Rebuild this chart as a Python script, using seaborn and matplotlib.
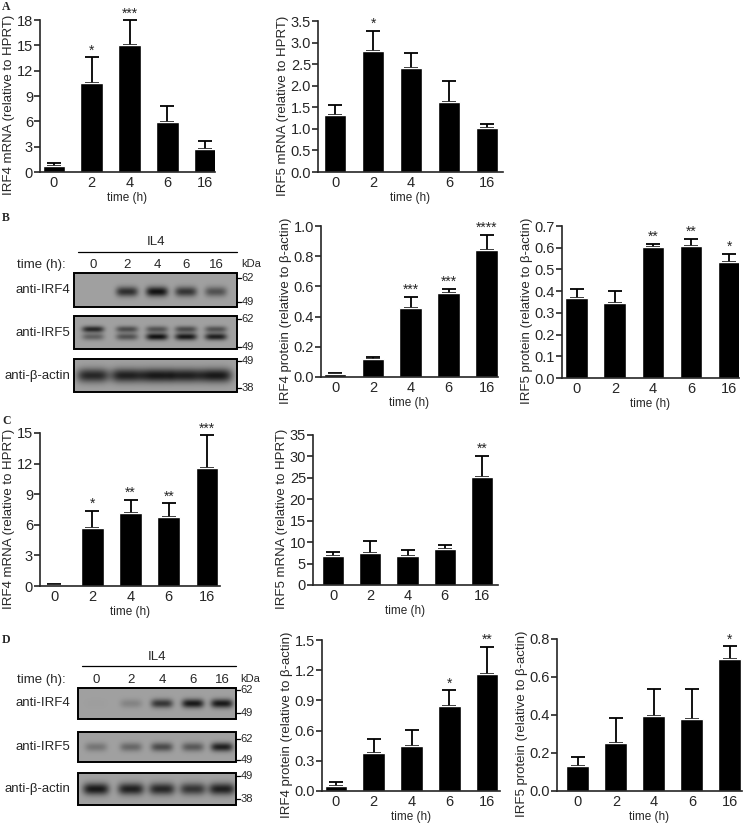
import numpy as np
import pandas as pd
import seaborn as sns
import matplotlib.pyplot as plt
from matplotlib.patches import Rectangle
from matplotlib.ticker import FormatStrFormatter

# time points (h) shared by every panel
times = ['0', '2', '4', '6', '16']

# A: mRNA, first donor set
a_irf4_mrna = [0.67, 10.56, 15.07, 5.9, 2.69]
a_irf4_mrna_err = [0.40, 3.01, 2.89, 1.9, 0.95]
a_irf4_mrna_sig = ['', '*', '***', '', '']
a_irf5_mrna = [1.31, 2.81, 2.42, 1.62, 1.02]
a_irf5_mrna_err = [0.24, 0.46, 0.33, 0.48, 0.10]
a_irf5_mrna_sig = ['', '*', '', '', '']

# B: protein quantification
b_irf4_prot = [0.02, 0.12, 0.46, 0.555, 0.844]
b_irf4_prot_err = [0.006, 0.015, 0.073, 0.03, 0.097]
b_irf4_prot_sig = ['', '', '***', '***', '****']
b_irf5_prot = [0.368, 0.345, 0.603, 0.607, 0.533]
b_irf5_prot_err = [0.041, 0.055, 0.013, 0.035, 0.04]
b_irf5_prot_sig = ['', '', '**', '**', '*']

# C: mRNA, second set
c_irf4_mrna = [0.1, 5.64, 7.12, 6.73, 11.55]
c_irf4_mrna_err = [0.13, 1.74, 1.31, 1.37, 3.22]
c_irf4_mrna_sig = ['', '*', '**', '**', '***']
c_irf5_mrna = [6.7, 7.5, 6.8, 8.3, 25.2]
c_irf5_mrna_err = [0.9, 2.7, 1.4, 1.0, 5.0]
c_irf5_mrna_sig = ['', '', '', '', '**']

# D: protein quantification, second set
d_irf4_prot = [0.053, 0.376, 0.448, 0.84, 1.164]
d_irf4_prot_err = [0.033, 0.144, 0.162, 0.16, 0.266]
d_irf4_prot_sig = ['', '', '', '*', '**']
d_irf5_prot = [0.13, 0.253, 0.397, 0.378, 0.693]
d_irf5_prot_err = [0.05, 0.132, 0.139, 0.157, 0.068]
d_irf5_prot_sig = ['', '', '', '', '*']

# western blot band darkness per lane (0 = none, 1 = black)
b_blot_irf4 = [0.0, 0.8, 1.0, 0.75, 0.55]
b_blot_irf5_upper = [0.85, 0.6, 0.55, 0.6, 0.55]
b_blot_irf5_lower = [0.45, 0.55, 1.0, 0.95, 0.9]
b_blot_actin = [0.85, 0.9, 0.95, 0.9, 0.95]
d_blot_irf4 = [0.02, 0.2, 0.75, 0.95, 0.95]
d_blot_irf5 = [0.3, 0.4, 0.6, 0.5, 0.9]
d_blot_actin = [0.95, 0.9, 0.85, 0.75, 0.9]

#
#
#
W, H = 745, 823
sns.set_style('ticks')
plt.rcParams['font.family'] = ['Liberation Sans', 'DejaVu Sans']
plt.rcParams['axes.linewidth'] = 1.2

fig = plt.figure(figsize=(W / 100, H / 100), dpi=100)

ov = fig.add_axes([0, 0, 1, 1])
ov.set_xlim(0, W)
ov.set_ylim(H, 0)
ov.axis('off')
ov.set_autoscale_on(False)


def bar_panel(box, pad, values, errors, sig, yticks, fmt, ylabel):
    l, r, t, b = box
    ax = fig.add_axes([l / W, 1 - b / H, (r - l) / W, (b - t) / H])
    df = pd.DataFrame({'time': times, 'value': values})
    sns.barplot(data=df, x='time', y='value', order=times, color='black',
                saturation=1, width=0.6, errorbar=None, ax=ax, zorder=2)
    ax.errorbar(np.arange(len(times)), values,
                yerr=[np.zeros(len(values)), errors], fmt='none',
                ecolor='black', elinewidth=1.3, capsize=5, capthick=1.3,
                zorder=1, clip_on=False)
    for i, (v, e, s) in enumerate(zip(values, errors, sig)):
        if s:
            ax.text(i, v + e, s, ha='center', va='bottom', fontsize=10,
                    clip_on=False)
    ax.set_xlim(-pad[0], len(times) - 1 + pad[1])
    ax.set_ylim(0, yticks[-1])
    ax.set_yticks(yticks)
    ax.yaxis.set_major_formatter(FormatStrFormatter(fmt))
    ax.tick_params(axis='y', length=4, width=1.2, labelsize=10.5, pad=1)
    ax.tick_params(axis='x', length=0, labelsize=10.5, pad=3)
    ax.set_xlabel('time (h)', fontsize=8.5, labelpad=1)
    ax.set_ylabel(ylabel, fontsize=9.5, labelpad=1)
    # the reference labels sit a little below the axis centre
    ax.yaxis.label.set_y(0.5 - 9 / (b - t))
    sns.despine(ax=ax)
    return ax


bar_panel((40, 215, 20, 172), (0.37, 0.26), a_irf4_mrna, a_irf4_mrna_err,
          a_irf4_mrna_sig, [0, 3, 6, 9, 12, 15, 18], '%d',
          'IRF4 mRNA (relative to HPRT)')
bar_panel((318, 503, 21, 172), (0.45, 0.42), a_irf5_mrna, a_irf5_mrna_err,
          a_irf5_mrna_sig, [0, 0.5, 1.0, 1.5, 2.0, 2.5, 3.0, 3.5], '%.1f',
          'IRF5 mRNA (relative to HPRT)')
bar_panel((321, 498, 226, 377), (0.37, 0.3), b_irf4_prot, b_irf4_prot_err,
          b_irf4_prot_sig, [0, 0.2, 0.4, 0.6, 0.8, 1.0], '%.1f',
          'IRF4 protein (relative to β-actin)')
bar_panel((562, 739, 226, 378), (0.39, 0.26), b_irf5_prot, b_irf5_prot_err,
          b_irf5_prot_sig, [0, 0.1, 0.2, 0.3, 0.4, 0.5, 0.6, 0.7], '%.1f',
          'IRF5 protein (relative to β-actin)')
bar_panel((40, 220, 433, 586), (0.37, 0.34), c_irf4_mrna, c_irf4_mrna_err,
          c_irf4_mrna_sig, [0, 3, 6, 9, 12, 15], '%d',
          'IRF4 mRNA (relative to HPRT)')
bar_panel((313, 498, 435, 585), (0.54, 0.43), c_irf5_mrna, c_irf5_mrna_err,
          c_irf5_mrna_sig, [0, 5, 10, 15, 20, 25, 30, 35], '%d',
          'IRF5 mRNA (relative to HPRT)')
bar_panel((322, 500, 640, 791), (0.37, 0.34), d_irf4_prot, d_irf4_prot_err,
          d_irf4_prot_sig, [0, 0.3, 0.6, 0.9, 1.2, 1.5], '%.1f',
          'IRF4 protein (relative to β-actin)')
bar_panel((557, 742, 639, 791), (0.55, 0.32), d_irf5_prot, d_irf5_prot_err,
          d_irf5_prot_sig, [0, 0.2, 0.4, 0.6, 0.8], '%.1f',
          'IRF5 protein (relative to β-actin)')


def blot(x0, x1, y0, y1, lanes, bands, markers, label):
    # bands: (darkness per lane, relative y centre, half height, half width)
    nx, ny = int(x1 - x0) * 3, int(y1 - y0) * 3
    X, Y = np.meshgrid(np.linspace(x0, x1, nx), np.linspace(y0, y1, ny))
    dark = np.zeros_like(X)
    for levels, yc, hy, hx in bands:
        for lx, a in zip(lanes, levels):
            dark += a * np.exp(-((X - lx) / hx) ** 4
                               - ((Y - (y0 + yc * (y1 - y0))) / hy) ** 2)
    img = 0.63 - 0.56 * np.clip(dark, 0, 1)
    ov.imshow(img, cmap='gray', vmin=0, vmax=1, extent=(x0, x1, y1, y0),
              aspect='auto', interpolation='bilinear')
    ov.add_patch(Rectangle((x0, y0), x1 - x0, y1 - y0, fill=False,
                           lw=1.4, ec='black'))
    for my, mt in markers:
        ov.plot([x1, x1 + 4], [my, my], color='black', lw=0.9)
        ov.text(x1 + 4.5, my, mt, ha='left', va='center', fontsize=8)
    ov.text(70, (y0 + y1) / 2, label, ha='right', va='center', fontsize=9.5)


def blot_header(lanes, x0, x1, y_il4, y_line, y_time):
    ov.text((x0 + x1) / 2, y_il4, 'IL4', ha='center', va='center',
            fontsize=9.5)
    ov.plot([x0 + 4, x1], [y_line, y_line], color='black', lw=0.9)
    ov.text(17, y_time, 'time (h):', ha='left', va='center', fontsize=9.5)
    for lx, t in zip(lanes, times):
        ov.text(lx, y_time, t, ha='center', va='center', fontsize=9.5)
    ov.text(x1 + 4, y_time - 1, 'kDa', ha='left', va='center', fontsize=8)


lanes_b = [93, 127, 157, 186, 216]
blot_header(lanes_b, 74, 237, 242, 252, 265)
blot(74, 237, 273, 307, lanes_b, [(b_blot_irf4, 0.55, 5, 11)],
     [(278, '62'), (302, '49')], 'anti-IRF4')
blot(74, 237, 316, 349, lanes_b,
     [(b_blot_irf5_upper, 0.40, 3.2, 11), (b_blot_irf5_lower, 0.63, 3.5, 11)],
     [(319, '62'), (347, '49')], 'anti-IRF5')
blot(74, 237, 359, 392, lanes_b, [(b_blot_actin, 0.5, 7, 16)],
     [(361, '49'), (388, '38')], 'anti-β-actin')

lanes_d = [96, 131, 162, 193, 222]
blot_header(lanes_d, 78, 236, 657, 666, 680)
blot(78, 236, 688, 719, lanes_d, [(d_blot_irf4, 0.5, 4.5, 11)],
     [(690, '62'), (713, '49')], 'anti-IRF4')
blot(78, 236, 732, 762, lanes_d, [(d_blot_irf5, 0.5, 4.5, 11)],
     [(739, '62'), (760, '49')], 'anti-IRF5')
blot(78, 236, 773, 805, lanes_d, [(d_blot_actin, 0.5, 6, 13)],
     [(776, '49'), (799, '38')], 'anti-β-actin')

for letter, y in [('A', 7), ('B', 218), ('C', 421), ('D', 640)]:
    ov.text(2, y, letter, ha='left', va='center', fontsize=8.5,
            fontweight='bold', family=['Liberation Serif', 'DejaVu Serif'])

fig.savefig('out.png', dpi=100)
